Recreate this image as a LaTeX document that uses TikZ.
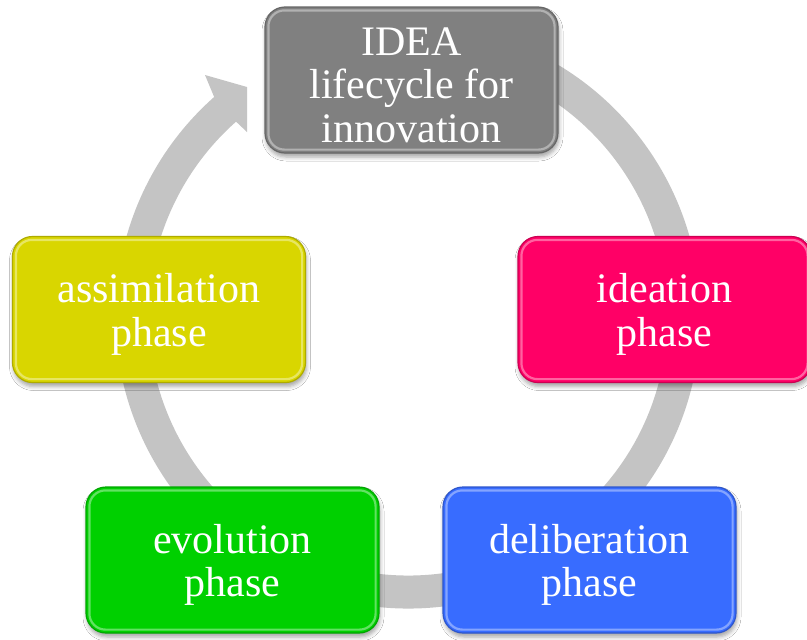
\documentclass[tikz,border=0pt]{standalone}
\usepackage{fontspec}
\setmainfont{Liberation Serif}
\usetikzlibrary{shadows.blur}
\definecolor{cgray}{RGB}{128,128,128}
\definecolor{cpink}{RGB}{255,0,102}
\definecolor{cblue}{RGB}{56,108,255}
\definecolor{cgreen}{RGB}{0,208,0}
\definecolor{cyellow}{RGB}{217,214,0}
\definecolor{ringgray}{RGB}{196,196,196}
\tikzset{
  phasebox/.style={draw=#1!80!black, line width=1.2pt, fill=#1, rounded corners=20pt,
    minimum width=293pt, minimum height=146pt, inner sep=0pt,
    blur shadow={shadow xshift=1pt, shadow yshift=-4pt, shadow blur radius=4pt, shadow opacity=35}},
  phasetext/.style={align=center, text=white, inner sep=0pt, yshift=-5pt,
    font=\fontsize{42}{43.5}\selectfont},
  ringline/.style={draw=ringgray, line width=33pt},
  ringhead/.style={fill=ringgray},
  bevel/.style={draw=#1!45!white, line width=2.2pt, rounded corners=16pt, opacity=0.7}
}
\begin{document}
\begin{tikzpicture}[x=1pt,y=-1pt]
\useasboundingbox[fill=white] (0,0) rectangle (807,640);
\coordinate (c) at (408,316);
\draw[ringline] ([shift={(80:276pt)}]c) arc[start angle=80,end angle=-229.5,radius=276pt];
\fill[ringhead] ([shift={(131.5:292.6pt)}]c) -- (205,75) -- (247,87) -- (247,132) -- ([shift={(131.5:259.6pt)}]c) -- cycle;

\node[phasebox=cgray] (idea) at (411.5,80) {};
\node[phasebox=cpink] (ideation) at (664.5,309.5) {};
\node[phasebox=cblue] (delib) at (589.5,560) {};
\node[phasebox=cgreen] (evol) at (232.5,560) {};
\node[phasebox=cyellow] (assim) at (159,309.5) {};

\foreach \n/\col in {idea/cgray, ideation/cpink, delib/cblue, evol/cgreen, assim/cyellow}{
  \draw[bevel=\col] ([shift={(4pt,-4pt)}]\n.north west) rectangle ([shift={(-4pt,4pt)}]\n.south east);
}

\node[phasetext] (ideaT) at (idea.center) {IDEA\\lifecycle for\\innovation};
\node[phasetext] (ideationT) at (ideation.center) {ideation\\phase};
\node[phasetext] (delibT) at (delib.center) {deliberation\\phase};
\node[phasetext] (evolT) at (evol.center) {evolution\\phase};
\node[phasetext] (assimT) at (assim.center) {assimilation\\phase};
\end{tikzpicture}
\end{document}
